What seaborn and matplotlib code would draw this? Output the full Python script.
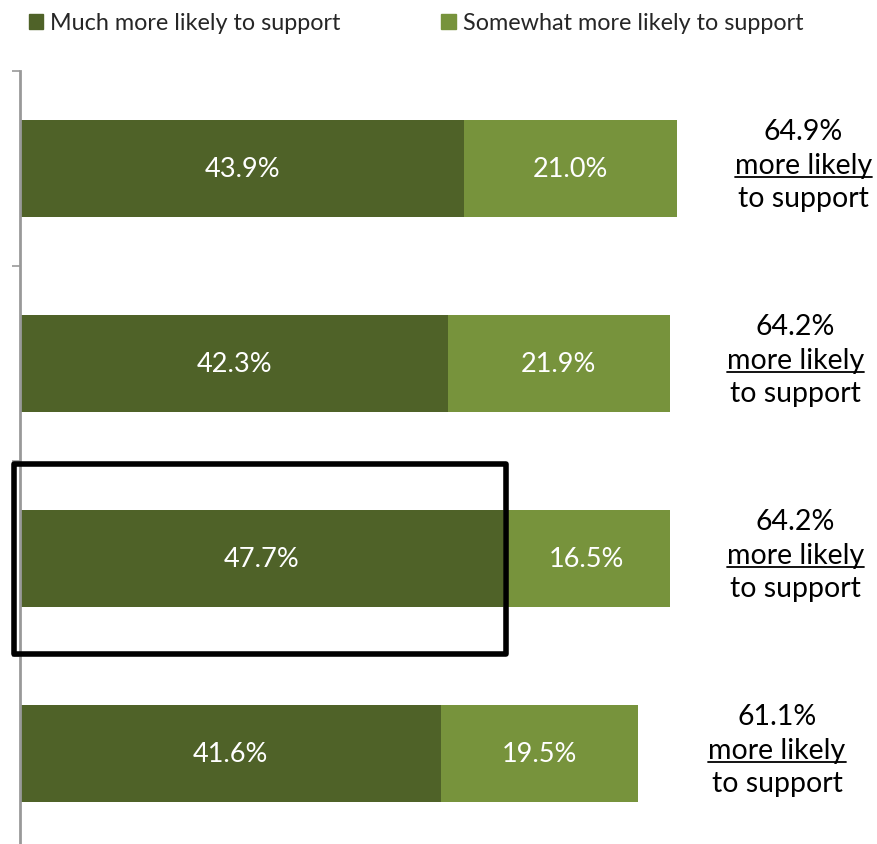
import matplotlib
matplotlib.use("Agg")
import matplotlib.pyplot as plt
import seaborn as sns
import pandas as pd
from matplotlib.patches import Rectangle
from matplotlib.lines import Line2D

# ---- data ----
categories = ["Message 1", "Message 2", "Message 3", "Message 4"]
much_more = [43.9, 42.3, 47.7, 41.6]
somewhat_more = [21.0, 21.9, 16.5, 19.5]
totals = [64.9, 64.2, 64.2, 61.1]
series_names = ["Much more likely to support", "Somewhat more likely to support"]

dark = "#4F6228"
light = "#77933C"

sns.set_theme(style="white")
plt.rcParams["font.family"] = ["Lato", "DejaVu Sans"]

W, H = 877, 845
fig = plt.figure(figsize=(W / 100, H / 100), dpi=100)
px = 10.12  # pixels per percent
xmax = 85
ax = fig.add_axes([20 / W, -7 / H, xmax * px / W, 780 / H])

df = pd.DataFrame({"cat": categories, "much": much_more,
                   "somewhat": somewhat_more, "total": [m + s for m, s in zip(much_more, somewhat_more)]})

sns.barplot(data=df, y="cat", x="total", color=light, width=0.5, orient="h",
            saturation=1, ax=ax, edgecolor="none")
sns.barplot(data=df, y="cat", x="much", color=dark, width=0.5, orient="h",
            saturation=1, ax=ax, edgecolor="none")

ax.set_xlim(0, xmax)
ax.set_ylim(3.5, -0.5)
ax.set_xlabel("")
ax.set_ylabel("")
ax.set_xticks([])
ax.set_yticks([-0.5, 0.5, 1.5, 2.5, 3.5])
ax.set_yticklabels([])
ax.tick_params(axis="y", which="both", left=True, length=6, width=1.2, color="#999999", direction="out")
for s in ["top", "right", "bottom"]:
    ax.spines[s].set_visible(False)
ax.spines["left"].set_color("#999999")
ax.spines["left"].set_linewidth(2)

# bar value labels
for i, (m, s) in enumerate(zip(much_more, somewhat_more)):
    ax.text(m / 2, i, f"{m:.1f}%", ha="center", va="center", color="white",
            fontsize=19.5)
    ax.text(m + s / 2, i, f"{s:.1f}%", ha="center", va="center", color="white",
            fontsize=19.5)

# right-side annotations
label_x = [77.4, 76.6, 76.6, 74.8]
underline_items = []
line_dy = 0.172
mid_off = -0.02
for i, (t, lx) in enumerate(zip(totals, label_x)):
    ax.text(lx, i + mid_off - line_dy, f"{t:.1f}%", ha="center", va="center",
            fontsize=20.5, color="black", clip_on=False)
    tm = ax.text(lx, i + mid_off, "more likely", ha="center", va="center",
                 fontsize=20.5, color="black", clip_on=False)
    ax.text(lx, i + mid_off + line_dy, "to support", ha="center", va="center",
            fontsize=20.5, color="black", clip_on=False)
    underline_items.append(tm)

# highlight box around third bar
rect = Rectangle((-0.6, 2 - 0.487), 48.6, 0.979, fill=False, edgecolor="black",
                 linewidth=4, clip_on=False, joinstyle="round", zorder=5)
ax.add_patch(rect)

# legend
handles = [Rectangle((0, 0), 1, 1, color=dark), Rectangle((0, 0), 1, 1, color=light)]
fig.legend(handles, series_names, loc="center left", bbox_to_anchor=(29 / W, 1 - 24 / H),
           ncol=2, frameon=False, fontsize=16.8, handlelength=0.62, handleheight=0.62,
           handletextpad=0.3, columnspacing=4.3, borderpad=0, borderaxespad=0)

# underline "more likely"
fig.canvas.draw()
r = fig.canvas.get_renderer()
for tm in underline_items:
    bb = tm.get_window_extent(renderer=r)
    y = bb.y0 + 1
    fig.add_artist(Line2D([bb.x0 / W, bb.x1 / W], [y / H, y / H], color="black",
                          linewidth=1.3, transform=fig.transFigure))

fig.savefig("out.png", dpi=100)
